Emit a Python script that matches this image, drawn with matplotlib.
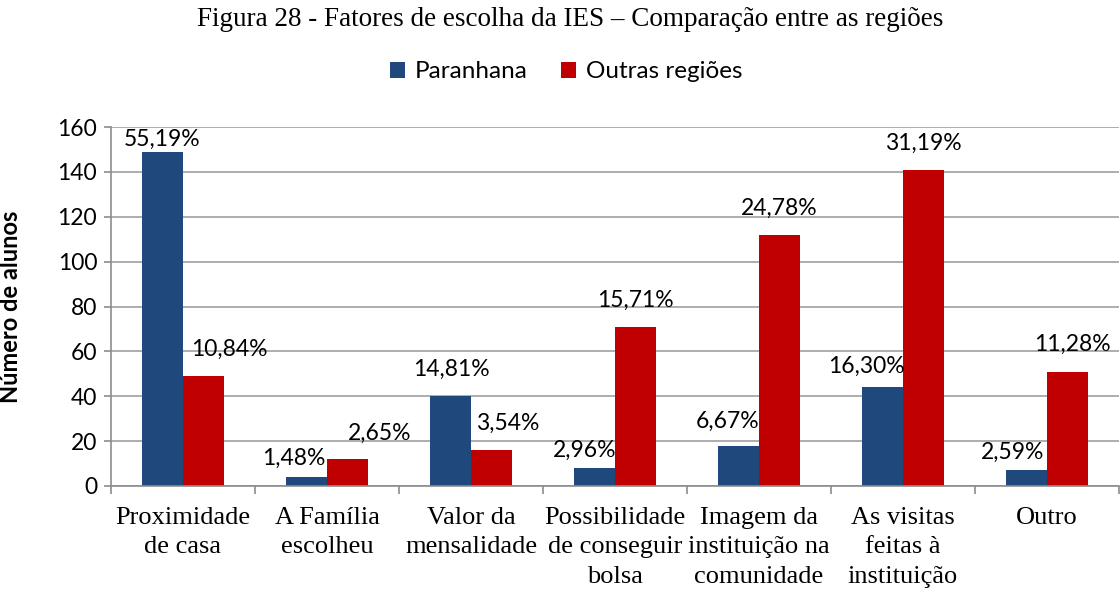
import matplotlib
matplotlib.use("Agg")
import matplotlib.pyplot as plt
import numpy as np

categories = ["Proximidade\nde casa", "A Família\nescolheu", "Valor da\nmensalidade",
              "Possibilidade\nde conseguir\nbolsa", "Imagem da\ninstituição na\ncomunidade",
              "As visitas\nfeitas à\ninstituição", "Outro"]
paranhana = [149, 4, 40, 8, 18, 44, 7]
outras = [49, 12, 16, 71, 112, 141, 51]
paranhana_labels = ["55,19%", "1,48%", "14,81%", "2,96%", "6,67%", "16,30%", "2,59%"]
outras_labels = ["10,84%", "2,65%", "3,54%", "15,71%", "24,78%", "31,19%", "11,28%"]
yticks = [0, 20, 40, 60, 80, 100, 120, 140, 160]

# label offsets in pixels (dx, dy) from bar top centre
p_off = [(0, 12), (-13, 19), (1, 27), (-10, 18), (-11, 24), (-16, 21), (-14, 18)]
o_off = [(26, 27), (32, 26), (16, 27), (0, 26), (0, 26), (0, 26), (5, 27)]

blue = "#1f497d"
red = "#c00000"
sans = "Lato"
serif = "Liberation Serif"

fig = plt.figure(figsize=(11.2, 5.91), dpi=100)
ax = fig.add_axes([111/1120, 1-486/591, 1008/1120, (486-127)/591])

x = np.arange(len(categories))
w = 0.285
b1 = ax.bar(x - w/2, paranhana, w, color=blue, zorder=3)
b2 = ax.bar(x + w/2, outras, w, color=red, zorder=3)

for rect, lab, (dx, dy) in zip(b1, paranhana_labels, p_off):
    ax.annotate(lab, (rect.get_x() + rect.get_width()/2, rect.get_height()),
                xytext=(dx, dy), textcoords="offset pixels", ha="center", va="center",
                fontsize=16.5, family=sans, zorder=4)
for rect, lab, (dx, dy) in zip(b2, outras_labels, o_off):
    ax.annotate(lab, (rect.get_x() + rect.get_width()/2, rect.get_height()),
                xytext=(dx, dy), textcoords="offset pixels", ha="center", va="center",
                fontsize=16.5, family=sans, zorder=4)

ax.set_xlim(-0.5, len(categories) - 0.5)
ax.set_ylim(0, 160)
ax.set_yticks(yticks)
ax.set_yticklabels([str(v) for v in yticks], family=sans, fontsize=16.5)
ax.set_xticks(x)
ax.set_xticklabels(categories, family=serif, fontsize=19, linespacing=1.45, va="top")
ax.set_xticks(np.arange(len(categories) + 1) - 0.5, minor=True)
ax.tick_params(axis="x", which="major", length=0, pad=15)
ax.tick_params(axis="x", which="minor", length=6, width=1.2, color="#8c8c8c", direction="out")
ax.tick_params(axis="y", length=5, width=1.2, color="#8c8c8c", direction="out", pad=5)

ax.grid(axis="y", color="#a0a0a0", linewidth=1.2, zorder=0)
for s in ["top", "right"]:
    ax.spines[s].set_visible(False)
for s in ["left", "bottom"]:
    ax.spines[s].set_color("#8c8c8c")
    ax.spines[s].set_linewidth(1.2)
    ax.spines[s].set_zorder(5)

ax.set_ylabel("Número de alunos", family=sans, fontweight="bold", fontsize=17)
ax.yaxis.set_label_coords(-(111-22)/1008, 0.5)

fig.text(570/1120, 1-20/591, "Figura 28 - Fatores de escolha da IES – Comparação entre as regiões",
         ha="center", va="center", family=serif, fontsize=19.5)

leg = fig.legend([b1, b2], ["Paranhana", "Outras regiões"], loc="center",
                 bbox_to_anchor=(566/1120, 1-72/591), ncol=2, frameon=False,
                 prop={"family": sans, "size": 17.5}, handlelength=0.6, handleheight=0.6,
                 handletextpad=0.4, columnspacing=1.4)

fig.savefig("out.png", dpi=100)
